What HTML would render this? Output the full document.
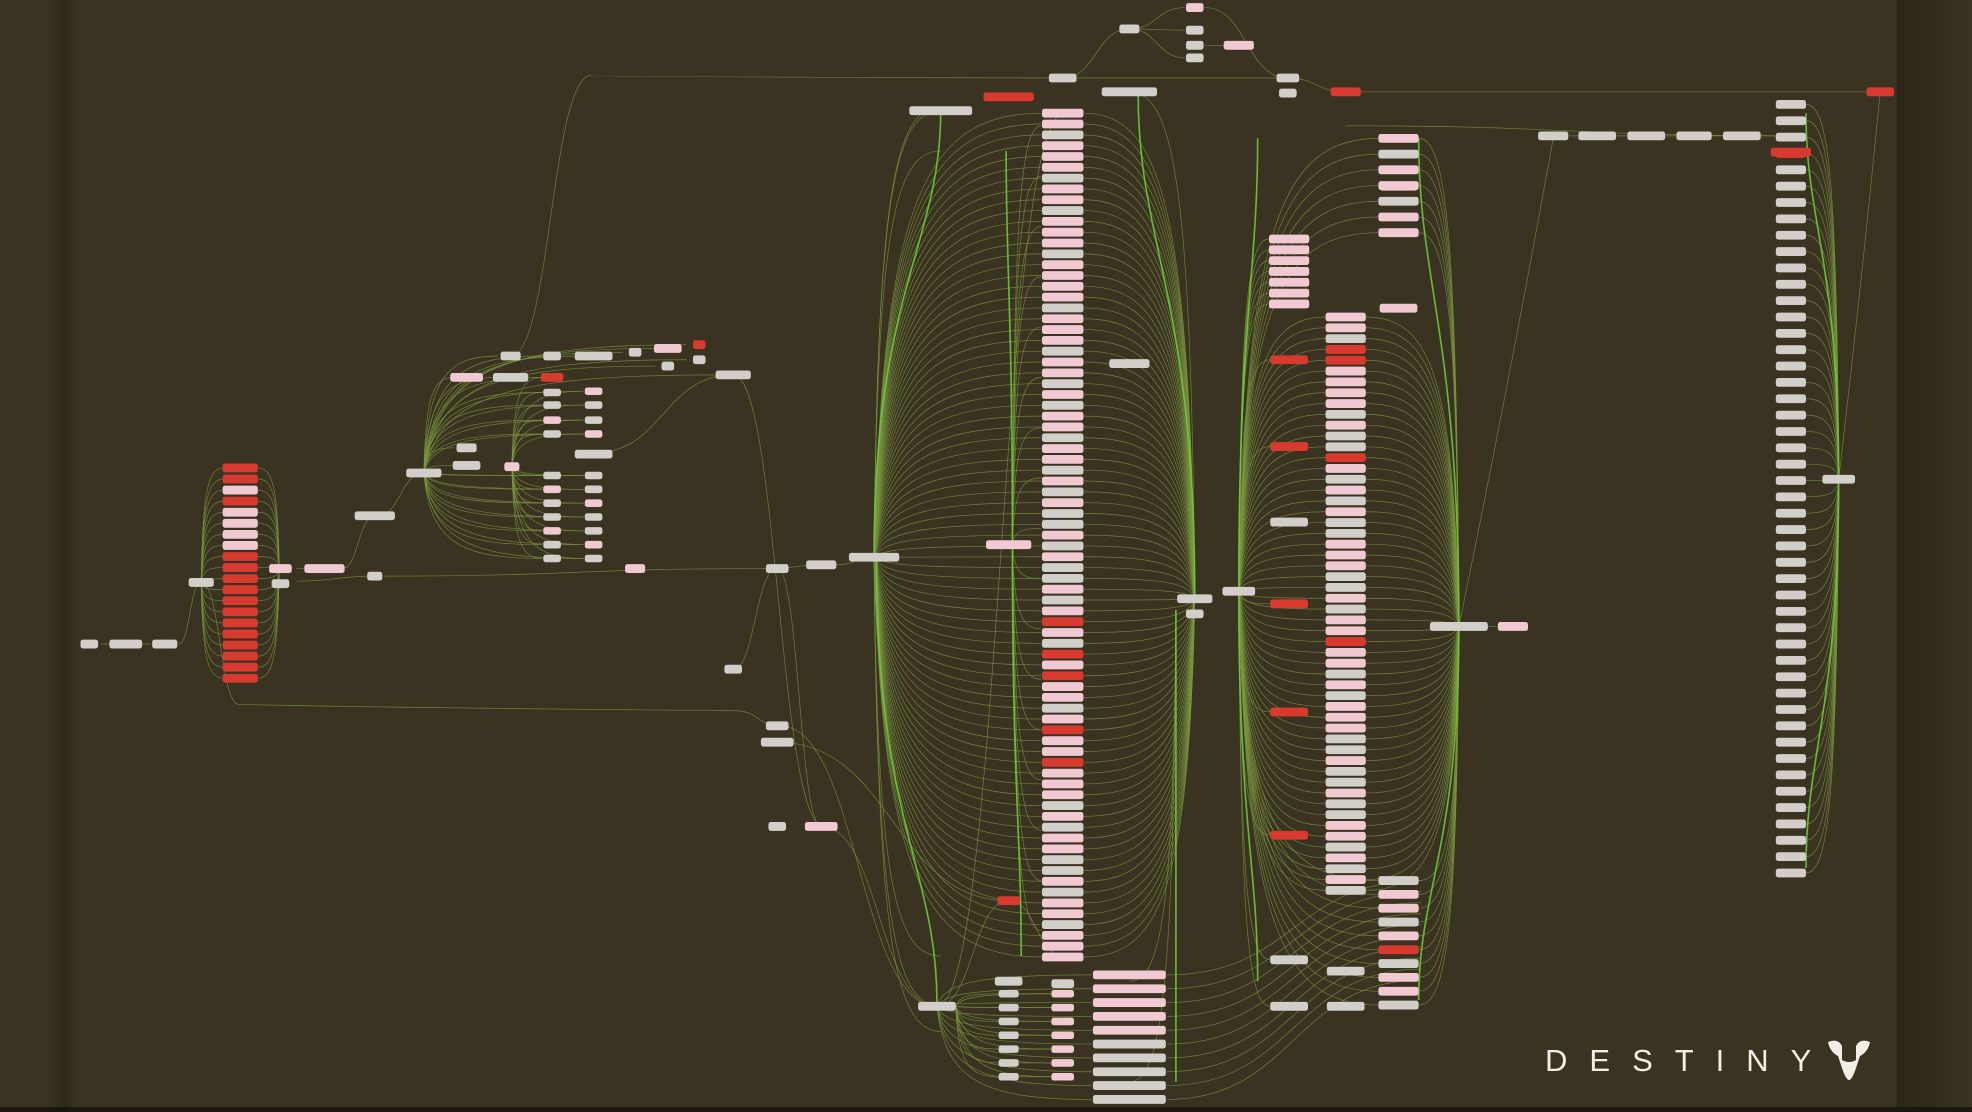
<!DOCTYPE html>
<html><head><meta charset="utf-8"><style>
html,body{margin:0;padding:0;background:#3b3322;overflow:hidden}
#wrap{position:relative;width:1972px;height:1112px;background:#3b3322}
svg{position:absolute;left:0;top:0}
.logo{position:absolute;left:1545px;top:1043px;font-family:"Liberation Sans",sans-serif;font-size:31px;letter-spacing:22px;color:#f2eee6}
</style></head><body><div id="wrap">
<svg id="s" width="1972" height="1112" viewBox="0 0 1568 884" preserveAspectRatio="none">
<defs><linearGradient id="lg" x1="0" x2="1"><stop offset="0" stop-color="#3b3322"/><stop offset="0.6" stop-color="#2e2819"/><stop offset="1" stop-color="#3a3624"/></linearGradient>
<linearGradient id="rg" x1="0" x2="1"><stop offset="0" stop-color="#2c2618"/><stop offset="1" stop-color="#3a3323"/></linearGradient></defs>
<rect x="0" y="0" width="1568" height="884" fill="#3b3322"/>
<rect x="36" y="0" width="27" height="884" fill="url(#lg)"/>
<rect x="1508" y="0" width="60" height="884" fill="url(#rg)"/>
<rect x="0" y="880" width="1568" height="4" fill="#1c1810"/>
<g id="e" fill="none" stroke="#7a9640" stroke-width="0.55" stroke-opacity="0.8"></g>
<g id="gr" fill="none" stroke="#6cc93a" stroke-width="1.3" stroke-opacity="0.9"></g>
<g id="n"></g>
</svg>
<div class="logo">DESTINY</div>
<svg style="left:1824px;top:1038px" width="50" height="44" viewBox="0 0 50 44"><path d="M4 4 Q14 0 18 8 L18 22 Q25 26 32 22 L32 8 Q36 0 46 4 Q44 14 36 18 L32 30 Q28 42 25 42 Q22 42 18 30 L14 18 Q6 14 4 4Z" fill="#f2eee6"/><rect x="22" y="6" width="6" height="14" rx="2" fill="#3b3322"/></svg>
</div>
<script>
var E=document.getElementById('e'),G=document.getElementById('gr'),N=document.getElementById('n'),ns='http://www.w3.org/2000/svg';
var C={r:'#d93a2f',p:'#f1c9d2',g:'#d2cec9'};
function node(x,y,w,h,c){var r=document.createElementNS(ns,'rect');r.setAttribute('x',x-w/2);r.setAttribute('y',y-h/2);r.setAttribute('width',w);r.setAttribute('height',h);r.setAttribute('rx',2);r.setAttribute('fill',C[c]);N.appendChild(r);}
function edge(x1,y1,x2,y2){var p=document.createElementNS(ns,'path');var mx=(x1+x2)/2;p.setAttribute('d','M'+x1+' '+y1+' C'+mx+' '+y1+' '+mx+' '+y2+' '+x2+' '+y2);E.appendChild(p);}
function hub(hx,hy,x,y,grp){var p=document.createElementNS(ns,'path');var dx=x-hx;p.setAttribute('d','M'+hx+' '+hy+' C'+(hx+dx*0.05)+' '+(hy+(y-hy)*0.8)+' '+(hx+dx*0.3)+' '+y+' '+x+' '+y);(grp||E).appendChild(p);}
function spine(hx,hy,x,y){var p=document.createElementNS(ns,'path');p.setAttribute('d','M'+hx+' '+hy+' C'+hx+' '+(hy+(y-hy)*0.6)+' '+x+' '+(hy+(y-hy)*0.7)+' '+x+' '+y);G.appendChild(p);}
function vedge(x1,y1,x2,y2,bend){var p=document.createElementNS(ns,'path');p.setAttribute('d','M'+x1+' '+y1+' Q'+(bend)+' '+((y1+y2)/2)+' '+x2+' '+y2);E.appendChild(p);}
function seq(pat,i){return pat[i%pat.length];}
var colA=[];for(var y=90;y<=765;y+=8.6){colA.push(y);}
var patA='ppgpppgppgpppgppppgpppgppgpgppgppgpgpggpgpggpgprpgrprppgpgppgpppgpgppggpg';
colA.forEach(function(y,i){hub(695,443,828,y);hub(950,476,862,y);});
var colB=[];for(var y=252;y<=716;y+=8.6)colB.push(y);
var colC=[];for(var y=190;y<=245;y+=8.6)colC.push(y);
var colD=[];for(var y=110;y<=188;y+=12.5)colD.push(y);for(var y=700;y<=800;y+=11)colD.push(y);
colB.forEach(function(y){hub(985,470,1054,y);hub(1160,498,1086,y);});
colC.forEach(function(y){hub(985,470,1009,y);});
colD.forEach(function(y){hub(985,470,1096,y);hub(1160,498,1128,y);});
[286,355,480,566,664,763,800].forEach(function(y){hub(985,470,1010,y);});
var colR=[];for(var y=83;y<=695;y+=13)colR.push(y);
colR.forEach(function(y){hub(1462,381,1436,y);});
[85,88,120,760,800,820].forEach(function(y){hub(695,443,748,y);});
for(var y=100;y<760;y+=40){hub(805,433,828,y);}
hub(950,476,898,73);hub(935,485,898,860);hub(935,485,898,780);
// green spines
spine(695,443,748,88);spine(697,443,745,797);spine(805,433,800,120);spine(805,433,812,760);
spine(950,476,905,75);spine(935,485,935,860);spine(985,470,1000,110);spine(985,470,1000,780);
spine(1160,498,1128,110);spine(1160,498,1128,795);spine(1462,381,1436,90);spine(1462,381,1436,690);
var colL=[];for(var y=372;y<=546;y+=8.8)colL.push(y);
colL.forEach(function(y){hub(160,463,178,y);hub(222,452,205,y);});
edge(80,512,88,512);edge(112,512,120,512);edge(142,512,160,463);
edge(160,463,190,560);vedge(190,560,585,565,300);edge(585,565,620,577);
edge(236,452,258,452);edge(272,452,298,410);edge(300,410,337,376);edge(236,462,298,458);edge(305,458,610,452);
var mids=[[439,300],[439,312],[439,322],[439,334],[439,345],[439,378],[439,389],[439,400],[439,411],[439,422],[439,433],[439,444],[472,311],[472,322],[472,334],[472,345],[472,378],[472,389],[472,400],[472,411],[472,422],[472,433],[472,444]];
mids.forEach(function(m){hub(337,376,m[0]-8,m[1]);hub(407,371,m[0]-8,m[1]);});
[[371,300],[406,300],[406,283],[439,283],[472,283],[505,280],[531,277],[556,274],[531,291],[556,286],[583,298],[371,356],[371,370]].forEach(function(m){hub(337,376,m[0]-10,m[1]);});
edge(406,283,470,60);vedge(470,60,840,62,470);edge(583,298,655,657);edge(583,298,472,360);
edge(610,452,655,449);edge(665,449,695,443);edge(583,532,618,452);edge(618,452,653,657);edge(618,590,802,716);edge(620,577,745,800);
edge(653,657,745,800);edge(745,800,846,90);edge(745,800,802,716);edge(802,716,846,760);
var bl=[];for(var y=790;y<=858;y+=11)bl.push(y);
bl.forEach(function(y){hub(760,800,794,y);hub(760,800,837,y);edge(810,y,837,y);});
for(var y=775;y<=878;y+=11){hub(745,800,868,y);edge(928,y,1130,700+(y-775)*0.8);}
edge(845,62,898,23);edge(898,23,942,6);edge(898,23,942,24);edge(898,23,942,46);edge(958,36,985,36);edge(958,6,1024,62);edge(1024,62,1070,73);edge(1080,73,1495,73);
edge(845,62,1024,62);edge(1248,108,1424,108);edge(1424,108,1070,100);vedge(1235,110,1160,498,1200);vedge(1495,73,1462,381,1480);
edge(1175,498,1190,498);
colA.forEach(function(y,i){var c=seq(patA,i);if(Math.abs(y-541)<4||Math.abs(y-580)<4||Math.abs(y-606)<4)c='r';node(845,y,33,7,c);});
var patB='ppgrpppppgpggrpgpgpggpppggpgpprppgpgpppggpggpggppgpgpgg';
colB.forEach(function(y,i){var c=seq(patB,i);if(Math.abs(y-285)<4)c='r';node(1070,y,32,7,c);});
colC.forEach(function(y){node(1025,y,32,7,'p');});
colD.forEach(function(y,i){var c=i%3==1?'g':'p';if(Math.abs(y-752)<4)c='r';node(1112,y,32,7,c);});
[[1025,286,'r'],[1025,355,'r'],[1025,415,'g'],[1025,480,'r'],[1025,566,'r'],[1025,664,'r'],[1025,763,'g'],[1070,772,'g'],[1025,800,'g'],[1070,800,'g'],[1112,245,'p'],[1112,148,'p']].forEach(function(a){node(a[0],a[1],30,7,a[2]);});
colR.forEach(function(y,i){node(1424,y,24,7,i==3?'r':'g');});
node(1424,121,32,7,'r');
colL.forEach(function(y,i){var c=(i>=4&&i<=7)||i==2?'p':'r';node(191,y,28,7,c);});
mids.forEach(function(m,i){node(m[0],m[1],14,6,i%3==0?'p':'g');});
[[71,512,14,'g'],[100,512,26,'g'],[131,512,20,'g'],[160,463,20,'g'],[223,452,18,'p'],[223,464,14,'g'],[258,452,32,'p'],[298,410,32,'g'],[298,458,12,'g'],[337,376,28,'g'],[371,300,26,'p'],[406,300,28,'g'],[439,300,18,'r'],[406,283,16,'g'],[439,283,14,'g'],[472,283,30,'g'],[505,280,10,'g'],[531,277,22,'p'],[556,274,10,'r'],[531,291,10,'g'],[556,286,10,'g'],[583,298,28,'g'],[371,356,16,'g'],[371,370,22,'g'],[407,371,12,'p'],[472,361,30,'g'],[505,452,16,'p'],[618,452,18,'g'],[653,449,24,'g'],[695,443,40,'g'],[583,532,14,'g'],[618,577,18,'g'],[618,590,26,'g'],[618,657,14,'g'],[653,657,26,'p'],[802,716,18,'r'],[745,800,30,'g'],[802,433,36,'p'],[898,289,32,'g'],[748,88,50,'g'],[802,77,40,'r'],[845,62,22,'g'],[898,73,44,'g'],[898,23,16,'g'],[950,6,14,'p'],[950,24,14,'g'],[950,36,14,'g'],[950,46,14,'g'],[985,36,24,'p'],[1024,62,18,'g'],[1024,74,14,'g'],[1070,73,24,'r'],[950,476,28,'g'],[950,488,14,'g'],[985,470,26,'g'],[1160,498,46,'g'],[1203,498,24,'p'],[1235,108,24,'g'],[1270,108,30,'g'],[1309,108,30,'g'],[1347,108,28,'g'],[1385,108,30,'g'],[1462,381,26,'g'],[1495,73,22,'r'],[802,780,22,'g'],[845,782,18,'g']].forEach(function(a){node(a[0],a[1],a[2],7,a[3]);});
bl.forEach(function(y){node(802,y,16,6,'g');node(845,y,18,6,'p');});
for(var y=775;y<=878;y+=11){node(898,y,58,7,(y>840&&y<850)?'g':(y<830?'p':'g'));}
</script>
</body></html>
